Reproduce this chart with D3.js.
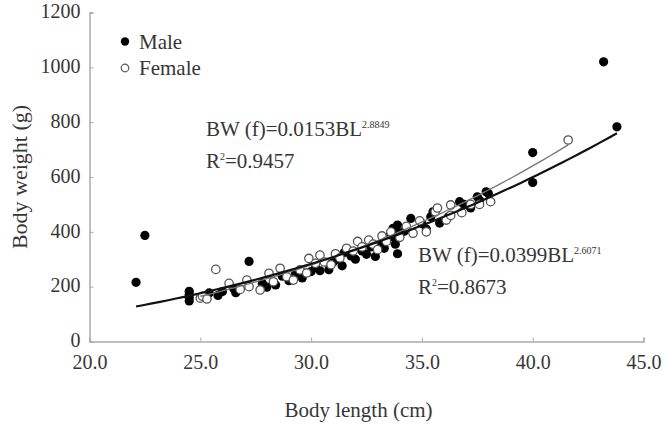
<!DOCTYPE html>
<html>
<head>
<meta charset="utf-8">
<script src="https://cdn.jsdelivr.net/npm/d3@7"></script>
<style>
  body { margin: 0; background: #fff; }
  svg text { font-family: "Liberation Serif", "Times New Roman", serif !important; fill: #363636; }
</style>
</head>
<body>
<svg id="chart"></svg>
<script>
// body length (cm) / body weight (g)
var maleLength = [22.1, 22.5, 24.5, 24.5, 24.5, 24.5, 25.4, 25.8, 26.0, 26.5, 26.6, 27.2, 27.8, 28.0,
  28.4, 28.7, 29.0, 29.3, 29.6, 30.0, 30.2, 30.4, 30.8, 31.0, 31.2, 31.4, 31.5, 31.8, 32.0, 32.3,
  32.5, 32.7, 32.9, 33.1, 33.3, 33.5, 33.7, 33.8, 33.8, 33.9, 33.9, 33.9, 34.2, 34.5, 35.0, 35.2,
  35.4, 35.5, 35.8, 36.2, 36.7, 36.9, 37.2, 37.5, 37.6, 37.9, 38.0, 40.0, 40.0, 43.2, 43.8];
var maleWeight = [216, 387, 148, 160, 172, 183, 177, 168, 182, 194, 178, 292, 212, 198,
  206, 238, 222, 248, 232, 255, 270, 258, 262, 290, 300, 276, 325, 312, 300, 330,
  318, 345, 310, 355, 340, 380, 413, 355, 375, 320, 395, 425, 402, 449, 430, 410,
  455, 473, 432, 455, 510, 500, 487, 528, 515, 546, 540, 580, 689, 1020, 783];

var femaleLength = [25.0, 25.1, 25.3, 25.7, 26.3, 26.8, 27.1, 27.2, 27.7, 28.1, 28.3, 28.6, 28.9,
  29.2, 29.5, 29.8, 29.9, 30.2, 30.4, 30.6, 30.9, 31.1, 31.3, 31.6, 31.9, 32.1, 32.3, 32.6, 32.8,
  33.0, 33.2, 33.4, 33.6, 34.0, 34.3, 34.6, 34.9, 35.2, 35.6, 35.7, 36.1, 36.3, 36.3, 36.8, 37.2,
  37.6, 38.1, 41.6];
var femaleWeight = [158, 165, 155, 263, 212, 190, 224, 200, 188, 249, 218, 267, 236,
  224, 261, 250, 303, 285, 315, 290, 280, 320, 305, 340, 330, 365, 345, 370, 355,
  335, 385, 365, 400, 380, 420, 395, 440, 400, 473, 487, 443, 498, 460, 470, 500,
  500, 510, 735];

// power fits BW = a * BL^b
var fitMale = { a: 0.0399, b: 2.6071 };
var fitFemale = { a: 0.0153, b: 2.8849 };

var xTicks = [20, 25, 30, 35, 40, 45];
var yTicks = [0, 200, 400, 600, 800, 1000, 1200];

var serif = '"Liberation Serif", "Times New Roman", serif';

var dimensions = {
  width: 662,
  height: 427,
  margin: { top: 12.5, right: 18.5, bottom: 85.5, left: 89.5 },
};
dimensions.boundedWidth = dimensions.width - dimensions.margin.left - dimensions.margin.right;
dimensions.boundedHeight = dimensions.height - dimensions.margin.top - dimensions.margin.bottom;

var svg = d3.select("#chart")
  .attr("width", dimensions.width)
  .attr("height", dimensions.height)
  .attr("font-family", serif);

var xScale = d3.scaleLinear().domain([20, 45]).range([0, dimensions.boundedWidth]);
var yScale = d3.scaleLinear().domain([0, 1200]).range([dimensions.boundedHeight, 0]);

var bounds = svg.append("g")
  .attr("transform", "translate(" + dimensions.margin.left + "," + dimensions.margin.top + ")");

// axes
var xAxis = d3.axisBottom(xScale).tickValues(xTicks).tickSize(-4).tickPadding(13)
  .tickFormat(d3.format(".1f"));
var yAxis = d3.axisLeft(yScale).tickValues(yTicks).tickSize(-4).tickPadding(9)
  .tickFormat(d3.format("d"));

var gx = bounds.append("g")
  .attr("transform", "translate(0," + dimensions.boundedHeight + ")")
  .call(xAxis);
var gy = bounds.append("g").call(yAxis);

[gx, gy].forEach(function (g) {
  g.attr("font-family", serif).attr("font-size", 20);
  g.selectAll(".domain").attr("stroke", "#aaa").attr("stroke-width", 1.5);
  g.selectAll(".tick line").attr("stroke", "#aaa");
  g.selectAll(".tick text").attr("fill", "#363636");
});
gy.selectAll(".tick text").attr("dy", "0.26em");

// points
var maleData = maleLength.map(function (d, i) { return { x: d, y: maleWeight[i] }; });
var femaleData = femaleLength.map(function (d, i) { return { x: d, y: femaleWeight[i] }; });

bounds.append("g").selectAll("circle")
  .data(maleData).enter().append("circle")
  .attr("cx", function (d) { return xScale(d.x); })
  .attr("cy", function (d) { return yScale(d.y); })
  .attr("r", 4.6)
  .attr("fill", "#000");

bounds.append("g").selectAll("circle")
  .data(femaleData).enter().append("circle")
  .attr("cx", function (d) { return xScale(d.x); })
  .attr("cy", function (d) { return yScale(d.y); })
  .attr("r", 4.2)
  .attr("fill", "#fff")
  .attr("stroke", "#555")
  .attr("stroke-width", 1.3);

// fitted curves
function curve(fit, x0, x1) {
  return d3.range(0, 61).map(function (i) {
    var x = x0 + (x1 - x0) * i / 60;
    return { x: x, y: fit.a * Math.pow(x, fit.b) };
  });
}
var line = d3.line()
  .x(function (d) { return xScale(d.x); })
  .y(function (d) { return yScale(d.y); });

bounds.append("path")
  .datum(curve(fitFemale, d3.min(femaleLength), d3.max(femaleLength)))
  .attr("d", line).attr("fill", "none")
  .attr("stroke", "#777").attr("stroke-width", 1.3);

bounds.append("path")
  .datum(curve(fitMale, d3.min(maleLength), d3.max(maleLength)))
  .attr("d", line).attr("fill", "none")
  .attr("stroke", "#111").attr("stroke-width", 2.2);

// legend
var legend = svg.append("g").attr("transform", "translate(125,41.5)");
legend.append("circle").attr("r", 4.2).attr("fill", "#000");
legend.append("text").attr("x", 14).attr("y", 7).attr("font-size", 21).text("Male");
legend.append("circle").attr("cy", 26.5).attr("r", 3.8)
  .attr("fill", "#fff").attr("stroke", "#555").attr("stroke-width", 1.2);
legend.append("text").attr("x", 14).attr("y", 33.5).attr("font-size", 21).text("Female");

// equations
function equation(x, y, coef, exp, r2) {
  var t = svg.append("text").attr("x", x).attr("y", y).attr("font-size", 21);
  t.append("tspan").text("BW (f)=" + coef + "BL");
  t.append("tspan").attr("dy", -8).attr("font-size", 10).text(exp);
  var r = svg.append("text").attr("x", x).attr("y", y + 32).attr("font-size", 21);
  r.append("tspan").text("R");
  r.append("tspan").attr("dy", -8).attr("font-size", 10).text("2");
  r.append("tspan").attr("dy", 8).text("=" + r2);
}
equation(206, 136, "0.0153", "2.8849", "0.9457");
equation(418, 262, "0.0399", "2.6071", "0.8673");

// axis titles
svg.append("text")
  .attr("x", dimensions.margin.left + dimensions.boundedWidth / 2 - 8)
  .attr("y", 417)
  .attr("text-anchor", "middle")
  .attr("font-size", 21)
  .text("Body length (cm)");

svg.append("text")
  .attr("transform", "translate(27," + (dimensions.margin.top + dimensions.boundedHeight / 2) + ") rotate(-90)")
  .attr("text-anchor", "middle")
  .attr("font-size", 22)
  .text("Body weight (g)");
</script>
</body>
</html>
